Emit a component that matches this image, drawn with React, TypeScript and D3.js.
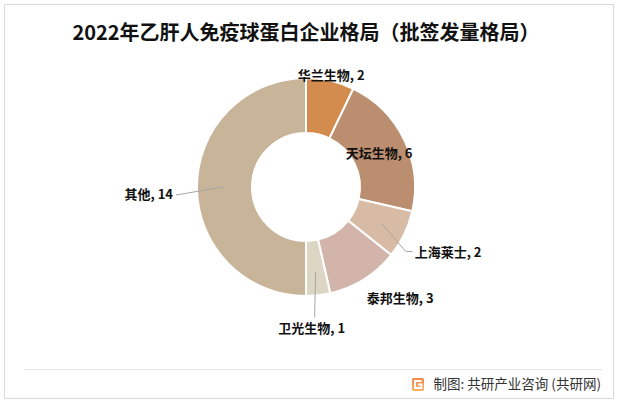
import React, { useRef, useEffect } from "react";
import * as d3 from "d3";

// ---------------------------------------------------------------------------
// DATA
// ---------------------------------------------------------------------------
const companies: string[] = ["华兰生物", "天坛生物", "上海莱士", "泰邦生物", "卫光生物", "其他"];
const lots: number[] = [2, 6, 2, 3, 1, 14];
const colors: string[] = ["#D48C4E", "#BA8E6E", "#D7BBA5", "#D3B4AA", "#DDD6C4", "#C8B498"];

const title = "2022年乙肝人免疫球蛋白企业格局（批签发量格局）";
const source = "制图: 共研产业咨询 (共研网)";

interface Slice {
  name: string;
  value: number;
  color: string;
}

// label layout per slice: radius of text anchor, optional leader line, text anchor
type LabelCfg = {
  r: number; // radius for label anchor
  dx: number;
  dy: number;
  anchor: string;
  leader?: { r0: number; bendDx: number; bendDy: number; endDx: number };
};

const labelCfg: LabelCfg[] = [
  { r: 113, dx: 0, dy: 3, anchor: "middle" },
  { r: 80, dx: 1, dy: 6, anchor: "middle" },
  { r: 84, dx: 33, dy: 34, anchor: "start", leader: { r0: 84, bendDx: 24, bendDy: 28, endDx: 7 } },
  { r: 145, dx: 17, dy: -7, anchor: "middle" },
  { r: 86, dx: -4, dy: 61, anchor: "middle", leader: { r0: 86, bendDx: -1, bendDy: 45, endDx: 0 } },
  { r: 83, dx: -50, dy: 12, anchor: "end", leader: { r0: 83, bendDx: -47, bendDy: 8, endDx: 0 } },
];

export default function App() {
  const svgRef = useRef<SVGSVGElement | null>(null);

  useEffect(() => {
    document.body.style.margin = "0";

    const W = 618;
    const H = 405;
    const cx = 306;
    const cy = 187;
    const outerR = 109;
    const innerR = 54;

    const data: Slice[] = companies.map((name, i) => ({
      name,
      value: lots[i],
      color: colors[i],
    }));

    const svgEl = d3.select(svgRef.current);
    svgEl.selectAll("*").remove();
    const svg = svgEl.attr("width", W).attr("height", H);

    // frame
    svg
      .append("rect")
      .attr("x", 4.5)
      .attr("y", 4.5)
      .attr("width", 609)
      .attr("height", 394)
      .attr("fill", "#fff")
      .attr("stroke", "#d9d9d9");

    // title
    svg
      .append("text")
      .attr("x", 306)
      .attr("y", 40)
      .attr("text-anchor", "middle")
      .attr("font-family", "'Noto Sans CJK SC', sans-serif")
      .attr("font-weight", "bold")
      .attr("font-size", 20)
      .attr("fill", "#111")
      .text(title);

    // -----------------------------------------------------------------------
    // PIE
    // -----------------------------------------------------------------------
    const pie = d3
      .pie<Slice>()
      .value((d) => d.value)
      .sort(null);
    const arcs = pie(data);

    const arc = d3
      .arc<d3.PieArcDatum<Slice>>()
      .innerRadius(innerR)
      .outerRadius(outerR);

    const g = svg.append("g").attr("transform", `translate(${cx},${cy})`);

    g.selectAll("path.slice")
      .data(arcs)
      .enter()
      .append("path")
      .attr("class", "slice")
      .attr("d", arc)
      .attr("fill", (d) => d.data.color)
      .attr("stroke", "#fff")
      .attr("stroke-width", 2);

    // -----------------------------------------------------------------------
    // LABELS
    // -----------------------------------------------------------------------
    const polar = (a: number, r: number): [number, number] => [
      r * Math.sin(a),
      -r * Math.cos(a),
    ];

    arcs.forEach((d, i) => {
      const cfg = labelCfg[i];
      const mid = (d.startAngle + d.endAngle) / 2;
      const [ax, ay] = polar(mid, cfg.r);

      if (cfg.leader) {
        const [lx, ly] = polar(mid, cfg.leader.r0);
        const bx = lx + cfg.leader.bendDx;
        const by = ly + cfg.leader.bendDy;
        g.append("polyline")
          .attr("points", `${lx},${ly} ${bx},${by} ${bx + cfg.leader.endDx},${by}`)
          .attr("fill", "none")
          .attr("stroke", "#a6a6a6")
          .attr("stroke-width", 1);
      }

      g.append("text")
        .attr("x", ax + cfg.dx)
        .attr("y", ay + cfg.dy)
        .attr("text-anchor", cfg.anchor)
        .attr("font-family", "'Noto Sans CJK SC', sans-serif")
        .attr("font-weight", "bold")
        .attr("font-size", 13)
        .attr("fill", "#111")
        .text(`${d.data.name}, ${d.data.value}`);
    });

    // -----------------------------------------------------------------------
    // FOOTER
    // -----------------------------------------------------------------------
    svg
      .append("line")
      .attr("x1", 24)
      .attr("x2", 602)
      .attr("y1", 369.5)
      .attr("y2", 369.5)
      .attr("stroke", "#e3e3e3");

    const logo = svg.append("g").attr("transform", "translate(412,378)");
    const grad = svg
      .append("defs")
      .append("linearGradient")
      .attr("id", "logoGrad")
      .attr("x1", "0")
      .attr("y1", "0")
      .attr("x2", "0")
      .attr("y2", "1");
    grad.append("stop").attr("offset", "0").attr("stop-color", "#F2884A");
    grad.append("stop").attr("offset", "1").attr("stop-color", "#F7B36A");
    logo
      .append("rect")
      .attr("width", 12)
      .attr("height", 13)
      .attr("rx", 1.5)
      .attr("fill", "url(#logoGrad)");
    logo
      .append("path")
      .attr("d", "M9.5,3 H3 V10 H9.5 V6.5 H6")
      .attr("fill", "none")
      .attr("stroke", "#fff")
      .attr("stroke-width", 1.8);

    svg
      .append("text")
      .attr("x", 601)
      .attr("y", 389)
      .attr("text-anchor", "end")
      .attr("font-family", "'Noto Sans CJK SC', sans-serif")
      .attr("font-size", 13.5)
      .attr("fill", "#333")
      .text(source);
  }, []);

  return <svg ref={svgRef} style={{ display: "block" }} />;
}
